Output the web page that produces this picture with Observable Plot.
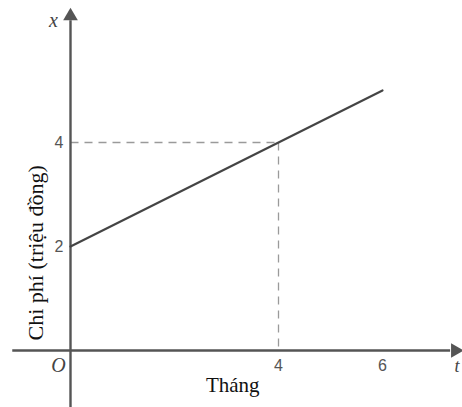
<!DOCTYPE html>
<html>
<head>
<meta charset="utf-8">
<script src="https://cdn.jsdelivr.net/npm/d3@7"></script>
<script src="https://cdn.jsdelivr.net/npm/@observablehq/plot@0.6"></script>
<style>
  html, body { margin: 0; padding: 0; background: #fff; }
</style>
</head>
<body>
<div id="chart"></div>
<script>
// Data
const months = [0, 6];          // Tháng
const costs = [2, 5];           // Chi phí (triệu đồng)
const markMonth = 4;
const markCost = 4;
const xTickValues = [4, 6];
const yTickValues = [2, 4];
const xAxisExtent = [-1.12, 7.5];
const yAxisExtent = [-1.2, 6.55];
const xAxisName = "t";
const yAxisName = "x";
const originLabel = "O";
const xTitle = "Tháng";
const yTitle = "Chi phí (triệu đồng)";

const W = 462, H = 407;
const serif = "'Liberation Serif', 'DejaVu Serif', serif";
const sans = "'Liberation Sans', Arial, sans-serif";
const axisColor = "#555";

const linePts = months.map((m, i) => ({m, c: costs[i]}));

const chart = Plot.plot({
  width: W,
  height: H,
  margin: 0,
  x: {domain: [-70 / 52, (W - 70) / 52], axis: null},
  y: {domain: [-(H - 350) / 52, 350 / 52], axis: null},
  style: {background: "#fff"},
  marks: [
    // dashed guides
    Plot.link([{x1: 0, y1: markCost, x2: markMonth, y2: markCost}, {x1: markMonth, y1: markCost, x2: markMonth, y2: 0}], {
      x1: "x1", y1: "y1", x2: "x2", y2: "y2",
      stroke: "#9a9a9a", strokeWidth: 1.3, strokeDasharray: "8,6"
    }),
    // axes
    Plot.link([{x1: xAxisExtent[0], y1: 0, x2: xAxisExtent[1] - 0.2, y2: 0}], {
      x1: "x1", y1: "y1", x2: "x2", y2: "y2", stroke: axisColor, strokeWidth: 2.4
    }),
    Plot.link([{x1: 0, y1: yAxisExtent[0], x2: 0, y2: yAxisExtent[1] - 0.2}], {
      x1: "x1", y1: "y1", x2: "x2", y2: "y2", stroke: axisColor, strokeWidth: 2.4
    }),
    // arrowheads
    Plot.dot([{x: xAxisExtent[1] - 0.1, y: 0}], {
      x: "x", y: "y", symbol: "triangle2", r: 7, fill: axisColor, rotate: 90
    }),
    Plot.dot([{x: 0, y: yAxisExtent[1] - 0.12}], {
      x: "x", y: "y", symbol: "triangle2", r: 7, fill: axisColor
    }),
    // cost line
    Plot.line(linePts, {x: "m", y: "c", stroke: "#444", strokeWidth: 2.2}),
    // tick labels
    Plot.text(yTickValues, {
      x: 0, y: d => d, text: d => String(d), dx: -7, textAnchor: "end",
      fontFamily: sans, fontSize: 16, fill: "#555"
    }),
    Plot.text(xTickValues, {
      x: d => d, y: 0, text: d => String(d), dy: 15,
      fontFamily: sans, fontSize: 16, fill: "#555"
    }),
    // origin
    Plot.text([originLabel], {
      x: 0, y: 0, text: d => d, dx: -12, dy: 15,
      fontFamily: serif, fontStyle: "italic", fontSize: 20, fill: "#444"
    }),
    // axis names
    Plot.text([yAxisName], {
      x: 0, y: yAxisExtent[1], text: d => d, dx: -17, dy: 11,
      fontFamily: serif, fontStyle: "italic", fontSize: 20, fill: "#444"
    }),
    Plot.text([xAxisName], {
      x: xAxisExtent[1], y: 0, text: d => d, dx: -6, dy: 16, textAnchor: "start",
      fontFamily: serif, fontStyle: "italic", fontSize: 18, fill: "#444"
    }),
    // titles
    Plot.text([xTitle], {
      x: 3.12, y: 0, text: d => d, dy: 35,
      fontFamily: serif, fontSize: 21, fill: "#111"
    }),
    Plot.text([yTitle], {
      x: 0, y: 1.88, text: d => d, dx: -35, rotate: -90,
      fontFamily: serif, fontSize: 22, fill: "#111"
    })
  ]
});

document.getElementById("chart").appendChild(chart);
</script>
</body>
</html>
